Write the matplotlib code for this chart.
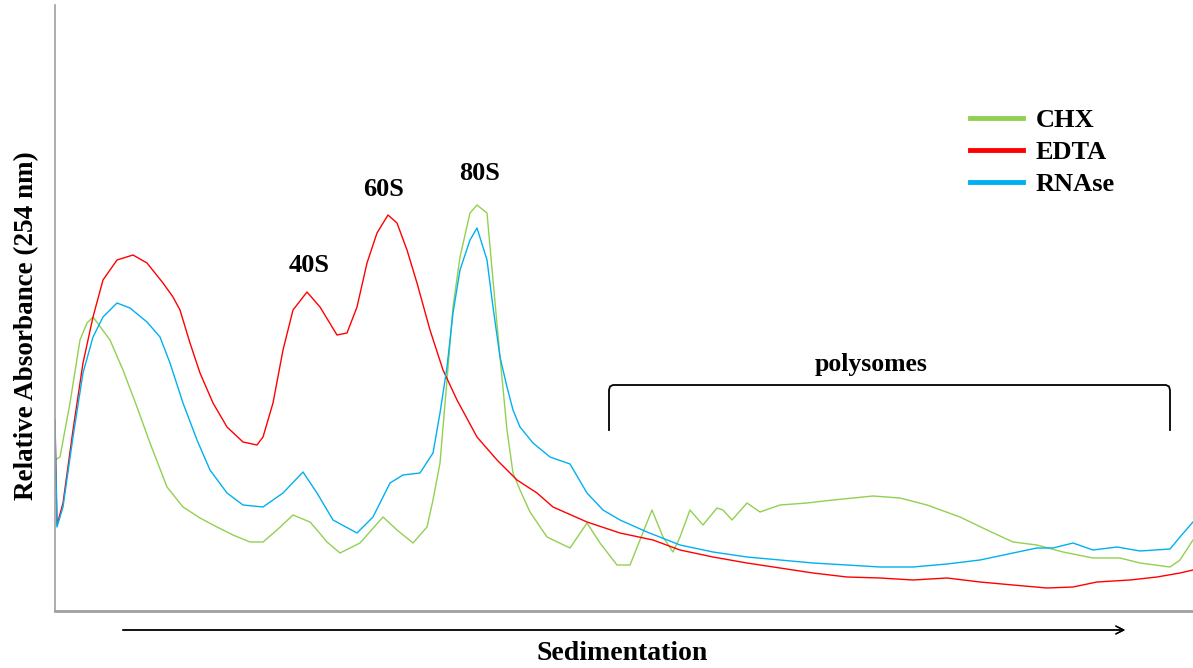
import matplotlib.pyplot as plt
from matplotlib.lines import Line2D

plt.rcParams['font.family'] = ['Liberation Serif', 'DejaVu Serif']
plt.rcParams['font.weight'] = 'bold'

# sedimentation position (arbitrary units) and relative absorbance
chx_x = [55, 60, 70, 80, 87, 93, 110, 123, 137, 150, 167, 183, 200, 217, 233, 250, 263, 277,
         293, 310, 317, 327, 340, 360, 383, 397, 413, 427, 433, 440, 447, 453, 460, 470, 477,
         487, 493, 500, 507, 513, 520, 530, 547, 570, 587, 600, 617, 630, 640, 652, 663, 673,
         680, 690, 703, 717, 723, 732, 747, 760, 780, 807, 833, 873, 900, 927, 960, 987, 1013,
         1037, 1063, 1093, 1120, 1140, 1170, 1180, 1193]
chx_y = [151, 154, 208, 271, 288, 294, 271, 241, 204, 168, 124, 104, 93, 84, 76, 69, 69, 81,
         96, 89, 81, 69, 58, 68, 94, 81, 68, 84, 111, 148, 231, 304, 354, 398, 406,
         398, 331, 254, 181, 138, 121, 99, 74, 63, 88, 68, 46, 46, 71, 101, 74, 59,
         74, 101, 86, 103, 101, 91, 108, 99, 106, 108, 111, 115, 113, 106, 94, 81, 69,
         66, 59, 53, 53, 48, 44, 51, 71]

edta_x = [55, 57, 63, 73, 83, 93, 103, 117, 133, 147, 163, 173, 180, 190, 200, 213, 227, 243,
          257, 263, 273, 283, 293, 307, 320, 337, 347, 357, 367, 377, 388, 397, 407, 417, 430,
          443, 457, 477, 497, 517, 537, 553, 587, 620, 653, 680, 713, 747, 780, 813, 847, 880,
          913, 947, 980, 1013, 1047, 1073, 1097, 1130, 1157, 1180, 1193]
edta_y = [191, 86, 108, 181, 248, 294, 331, 351, 356, 348, 328, 314, 301, 268, 238, 208, 184, 169,
          166, 174, 208, 261, 301, 319, 304, 276, 278, 304, 348, 378, 396, 388, 361, 328, 281,
          241, 211, 174, 151, 131, 118, 104, 89, 78, 71, 61, 54, 48, 43, 38, 34, 33,
          31, 33, 29, 26, 23, 24, 29, 31, 34, 38, 41]

rnase_x = [55, 57, 63, 73, 83, 93, 103, 117, 130, 147, 160, 170, 183, 197, 210, 227, 243, 263,
           283, 303, 317, 333, 357, 373, 390, 403, 420, 433, 440, 447, 453, 460, 470, 477, 487,
           493, 500, 507, 513, 520, 533, 550, 570, 587, 603, 620, 647, 680, 713, 747, 780, 813,
           847, 880, 913, 947, 980, 1013, 1037, 1053, 1073, 1093, 1117, 1140, 1170, 1180, 1193]
rnase_y = [184, 84, 104, 174, 238, 274, 294, 308, 303, 289, 274, 248, 208, 171, 141, 118, 106, 104,
           118, 139, 118, 91, 78, 94, 128, 136, 138, 158, 198, 244, 298, 341, 371, 383, 351,
           304, 254, 224, 201, 184, 168, 154, 147, 118, 101, 91, 79, 66, 59, 54, 51, 48,
           46, 44, 44, 47, 51, 58, 63, 63, 68, 61, 64, 60, 62, 74, 89]

series = [("CHX", chx_x, chx_y, "#92D050"),
          ("EDTA", edta_x, edta_y, "#FF0000"),
          ("RNAse", rnase_x, rnase_y, "#00B0F0")]

peak_labels = [("40S", 309, 346), ("60S", 384, 421), ("80S", 480, 438)]

W, H = 1193, 668
fig = plt.figure(figsize=(W / 100, H / 100), dpi=100)
ax = fig.add_axes([55 / W, 57 / H, 1138 / W, 606 / H])

for name, xs, ys, col in series:
    ax.plot(xs, ys, color=col, lw=1.0)

ax.set_xlim(55, 1193)
ax.set_ylim(0, 606)
ax.set_xticks([])
ax.set_yticks([])
for s in ("top", "right"):
    ax.spines[s].set_visible(False)
ax.spines["left"].set_color("#a0a0a0")
ax.spines["left"].set_linewidth(1.2)
ax.spines["bottom"].set_color("#a0a0a0")
ax.spines["bottom"].set_linewidth(2)

for txt, x, y in peak_labels:
    ax.text(x, y, txt, ha="center", va="center", fontsize=19, fontweight="bold")

# polysome bracket
bx = [609, 609, 610, 613, 1166, 1169, 1170, 1170]
by = [181, 221, 224.5, 226, 226, 224.5, 221, 181]
ax.plot(bx, by, color="black", lw=1.3, solid_joinstyle="round")
ax.text(871, 246, "polysomes", ha="center", va="center", fontsize=18.5, fontweight="bold")

handles = [Line2D([], [], color=c, lw=3.5) for _, _, _, c in series]
ax.legend(handles, [s[0] for s in series], loc="upper left",
          bbox_to_anchor=(970 / W, 1 - 109 / H), bbox_transform=fig.transFigure,
          frameon=False, borderpad=0, borderaxespad=0, handlelength=2.0,
          handletextpad=0.5, labelspacing=0.32, prop={"size": 19, "weight": "bold"})

fig.text(27 / W, 1 - 326 / H, "Relative Absorbance (254 nm)", rotation=90,
         ha="center", va="center", fontsize=19.5, fontweight="bold")
fig.text(622 / W, 1 - 654 / H, "Sedimentation", ha="center", va="center",
         fontsize=20, fontweight="bold")
fig.add_artist(plt.annotate("", xy=(1128 / W, 1 - 630 / H), xytext=(120 / W, 1 - 630 / H),
                            xycoords="figure fraction", textcoords="figure fraction",
                            arrowprops=dict(arrowstyle="->", lw=1, color="black",
                                            mutation_scale=14)))

fig.savefig("out.png", dpi=100)
